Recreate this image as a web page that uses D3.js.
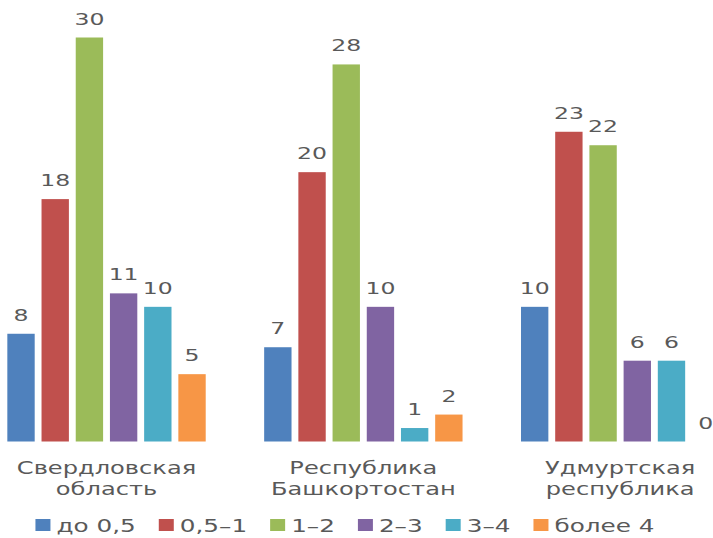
<!DOCTYPE html>
<html><head><meta charset="utf-8">
<script src="https://cdn.jsdelivr.net/npm/d3@7"></script>
<style>html,body{margin:0;padding:0;background:#fff;overflow:hidden}</style>
</head><body>
<svg id="chart" width="713" height="538"></svg>
<script>
const categories = [["Свердловская","область"],["Республика","Башкортостан"],["Удмуртская","республика"]];
const seriesNames = ["до 0,5","0,5–1","1–2","2–3","3–4","более 4"];
const colors = ["#4F81BD","#C0504D","#9BBB59","#8064A2","#4BACC6","#F79646"];
const values = [
  [8, 18, 30, 11, 10, 5],
  [7, 20, 28, 10, 1, 2],
  [10, 23, 22, 6, 6, 0]
];

const svg = d3.select("#chart");
const textColor = "#595959";
const font = "DejaVu Sans";

const x0 = d3.scaleBand().domain(d3.range(categories.length))
  .range([-21.9, 748.6]).paddingInner(0.2276).paddingOuter(0.1138);
const x1 = d3.scaleBand().domain(d3.range(seriesNames.length))
  .range([0, x0.bandwidth()]).paddingInner(0.2).paddingOuter(0);
const y = d3.scaleLinear().domain([0, 30]).range([441.5, 37.5]);

function stretchedText(parent, x, yy, str, size, sx, anchor) {
  const g = parent.append("g").attr("transform", `translate(${x},${yy}) scale(${sx},1)`);
  const t = g.append("text").attr("x", 0).attr("y", 0)
    .attr("text-anchor", anchor || "middle")
    .attr("font-family", font).attr("font-size", size)
    .attr("fill", textColor).text(str);
  return t;
}

const groups = svg.append("g").selectAll("g").data(values).join("g")
  .attr("transform", (d, i) => `translate(${x0(i)},0)`);

groups.each(function(vals) {
  const g = d3.select(this);
  vals.forEach((v, j) => {
    g.append("rect")
      .attr("x", x1(j)).attr("width", x1.bandwidth())
      .attr("y", y(v)).attr("height", y(0) - y(v))
      .attr("fill", colors[j]);
    stretchedText(g, x1(j) + x1.bandwidth() / 2, y(v) - 13, String(v), 16, 1.47);
  });
});

// category labels
categories.forEach((lines, i) => {
  const cx = x0(i) + x0.bandwidth() / 2;
  lines.forEach((ln, k) => {
    stretchedText(svg, cx, 473.5 + k * 21, ln, 17, 1.42);
  });
});

// legend
const legend = svg.append("g");
const items = [];
const sqW = 15, sqH = 12, gapSq = 6, gapItem = 23, legY = 532;
const LSX = 1.42;
seriesNames.forEach((name, j) => {
  const it = legend.append("g");
  it.append("rect").attr("x", 0).attr("y", -13).attr("width", sqW).attr("height", sqH).attr("fill", colors[j]);
  const t = stretchedText(it, sqW + gapSq, 0, name, 17.4, LSX, "start");
  const w = t.node().getComputedTextLength() * LSX;
  items.push({it, w: sqW + gapSq + w});
});
const total = d3.sum(items, d => d.w) + gapItem * (items.length - 1);
let start = 345 - total / 2;
items.forEach(d => {
  d.it.attr("transform", `translate(${start},${legY})`);
  start += d.w + gapItem;
});
</script>
</body></html>
